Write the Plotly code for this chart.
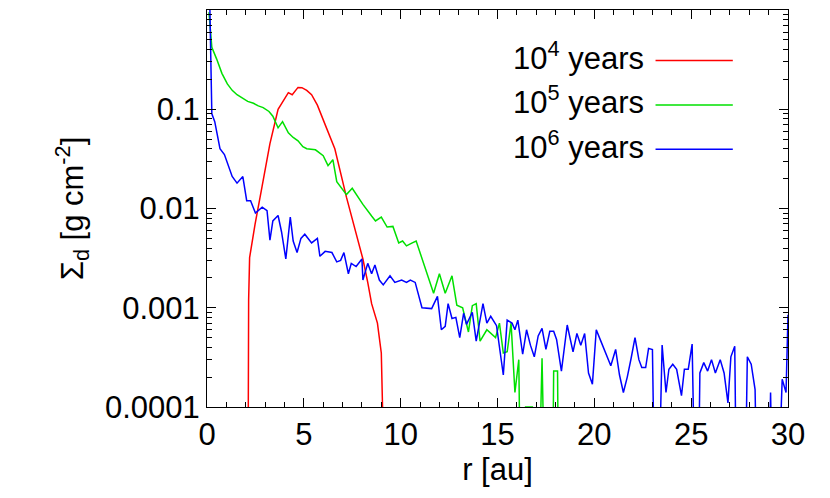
import plotly.graph_objects as go

LOW = 1e-6  # below plotted range

r_red = [2.1, 2.15, 2.2, 2.48, 2.84, 3.25, 3.67, 4.0, 4.2, 4.4, 4.7, 4.9, 5.15, 5.4, 5.7, 6.1, 6.6, 7.2, 7.6, 7.85, 8.05, 8.3, 8.5, 8.8, 9.0, 9.3]
s_red = [LOW, 0.0012, 0.0032, 0.0069, 0.0165, 0.045, 0.10, 0.125, 0.147, 0.14, 0.166, 0.165, 0.155, 0.14, 0.11, 0.07, 0.04, 0.013, 0.0066, 0.0045, 0.0031, 0.0018, 0.0011, 0.0007, 0.00035, LOW]

r_green = [0.1, 0.25, 0.5, 0.77, 1.05, 1.3, 1.55, 1.8, 2.1, 2.4, 2.65, 2.9, 3.2, 3.4, 3.67, 3.9, 4.2, 4.45, 4.7, 4.95, 5.15, 5.6, 6.0, 6.25, 6.5, 6.7, 7.2, 7.5, 8.05, 8.5, 8.7, 9.0, 9.3, 9.6, 9.9, 10.1, 10.3, 10.6, 10.8, 11.7, 12.0, 12.3, 12.65, 12.9, 13.2, 13.5, 13.7, 13.9, 14.1, 14.45, 14.9, 15.1, 15.3, 15.5, 15.7, 15.9, 16.1, 16.25, 16.45, 16.8, 17.0, 17.3, 17.55, 17.8, 17.9, 18.1, 18.2, 18.5]
s_green = [0.95, 0.42, 0.32, 0.23, 0.18, 0.155, 0.14, 0.13, 0.12, 0.115, 0.108, 0.104, 0.095, 0.085, 0.065, 0.075, 0.058, 0.052, 0.048, 0.042, 0.04, 0.039, 0.034, 0.027, 0.031, 0.0186, 0.0138, 0.016, 0.011, 0.0084, 0.0075, 0.0082, 0.0065, 0.0066, 0.0045, 0.0047, 0.0042, 0.0045, 0.0047, 0.0014, 0.0022, 0.0014, 0.0021, 0.00106, 0.001, 0.00057, 0.00105, 0.0011, 0.00046, 0.0006, 0.0005, 0.0007, 0.00035, 0.00036, 0.0007, 0.00014, 0.0003, LOW, 0.0001, 0.0001, LOW, 0.00031, LOW, LOW, 0.00023, 0.00023, LOW, LOW]

r_blue = [0.15, 0.25, 0.4, 0.67, 0.9, 1.3, 1.55, 1.85, 2.05, 2.25, 2.5, 2.85, 3.1, 3.25, 3.4, 3.67, 3.85, 4.07, 4.3, 4.45, 4.65, 4.85, 5.05, 5.4, 5.7, 5.83, 6.1, 6.45, 6.7, 6.9, 7.07, 7.3, 7.45, 7.7, 8.0, 8.05, 8.3, 8.5, 8.67, 8.9, 9.1, 9.45, 9.7, 10.05, 10.3, 10.5, 10.75, 11.1, 11.6, 11.9, 12.1, 12.3, 12.45, 12.65, 12.85, 13.05, 13.25, 13.4, 13.7, 13.9, 14.25, 14.45, 14.65, 14.95, 15.3, 15.5, 15.75, 15.9, 16.05, 16.3, 16.5, 16.7, 16.9, 17.1, 17.3, 17.5, 17.7, 17.9, 18.05, 18.3, 18.6, 18.9, 19.1, 19.3, 19.5, 19.7, 19.9, 20.1, 20.3, 20.5, 20.85, 21.1, 21.3, 21.5, 21.7, 21.9, 22.1, 22.3, 22.45, 22.65, 22.8, 23.0, 23.2, 23.5, 23.7, 23.85, 24.05, 24.25, 24.5, 24.65, 24.85, 25.05, 25.3, 25.45, 25.65, 25.85, 26.05, 26.25, 26.5, 26.7, 26.9, 27.05, 27.25, 27.4, 27.7, 27.9, 28.1, 28.3, 28.5, 28.9, 29.1, 29.3, 29.7, 29.9, 30.0]
s_blue = [1.0, 0.09, 0.075, 0.04, 0.035, 0.021, 0.018, 0.021, 0.012, 0.012, 0.009, 0.0103, 0.0095, 0.0048, 0.0075, 0.0085, 0.0058, 0.0031, 0.0082, 0.0047, 0.0036, 0.005, 0.0055, 0.0045, 0.005, 0.0033, 0.0037, 0.0036, 0.0029, 0.003, 0.0036, 0.0022, 0.0028, 0.0026, 0.0031, 0.0019, 0.0028, 0.0022, 0.0027, 0.0019, 0.0017, 0.0021, 0.0018, 0.0019, 0.0018, 0.0019, 0.0018, 0.001, 0.00098, 0.0013, 0.0006, 0.00065, 0.0011, 0.00078, 0.0008, 0.0005, 0.00088, 0.00068, 0.0009, 0.00046, 0.0011, 0.0007, 0.00082, 0.00066, 0.00021, 0.00075, 0.0007, 0.0006, 0.00075, 0.00034, 0.0006, 0.00042, 0.00032, 0.00052, 0.00062, 0.00038, 0.00058, 0.00058, 0.00048, 0.00023, 0.00067, 0.00036, 0.00055, 0.00042, 0.00055, 0.00022, 0.00017, 0.0006, 0.00048, 0.00039, 0.00026, 0.00038, 0.00021, 0.00014, 0.0002, 0.00031, 0.0005, 0.0003, 0.00025, 0.00025, 0.00039, 0.00038, LOW, 0.00042, 0.00014, 0.00024, 0.00027, 0.00024, 0.00013, 0.00024, 0.00024, 0.00043, LOW, 0.00022, 0.00028, 0.00023, 0.0003, 0.00022, 0.0003, 0.00022, 0.00011, 0.00032, 0.00041, LOW, LOW, 0.00032, 0.00027, 0.00015, LOW, LOW, 0.00014, LOW, 0.00019, 0.00014, 0.00085]

names = ["10<sup>4</sup> years", "10<sup>5</sup> years", "10<sup>6</sup> years"]
colors = ["#ff0000", "#00e000", "#0000ff"]
series = [(r_red, s_red), (r_green, s_green), (r_blue, s_blue)]

fig = go.Figure()
for (x, y), n, c in zip(series, names, colors):
    fig.add_trace(go.Scatter(x=x, y=y, mode="lines", name=n, line=dict(color=c, width=1.5), showlegend=False))

font = dict(family="Liberation Sans, Arial, sans-serif", size=31, color="black")
for i, (n, c) in enumerate(zip(names, colors)):
    yp = 0.885 - i * 0.112
    fig.add_annotation(xref="paper", yref="paper", x=0.755, y=yp, text=n, showarrow=False, xanchor="right", yanchor="middle", font=font)
    fig.add_shape(type="line", xref="paper", yref="paper", x0=0.772, x1=0.905, y0=yp - 0.012, y1=yp - 0.012, line=dict(color=c, width=1.5))

axis_common = dict(showline=True, linecolor="black", linewidth=1, mirror="ticks", ticks="inside",
                   ticklen=9, tickcolor="black", showgrid=False, zeroline=False, tickfont=font)
fig.update_xaxes(range=[0, 30], dtick=5, title=dict(text="r [au]", font=font, standoff=0),
                 minor=dict(ticks="inside", ticklen=5, dtick=1, tickcolor="black"), **axis_common)
fig.update_yaxes(type="log", range=[-4, 0], tickvals=[1e-4, 1e-3, 1e-2, 0.1, 1],
                 ticktext=["0.0001", "0.001", "0.01", "0.1", "1"],
                 title=dict(text="Σ<sub>d</sub> [g cm<sup>-2</sup>]", font=font, standoff=12),
                 minor=dict(ticks="inside", ticklen=5, dtick="D1", tickcolor="black"), **axis_common)
fig.update_layout(width=830, height=498, margin=dict(l=199, r=50, t=2, b=99),
                  plot_bgcolor="white", paper_bgcolor="white", font=font)
fig.write_html("out.html")
